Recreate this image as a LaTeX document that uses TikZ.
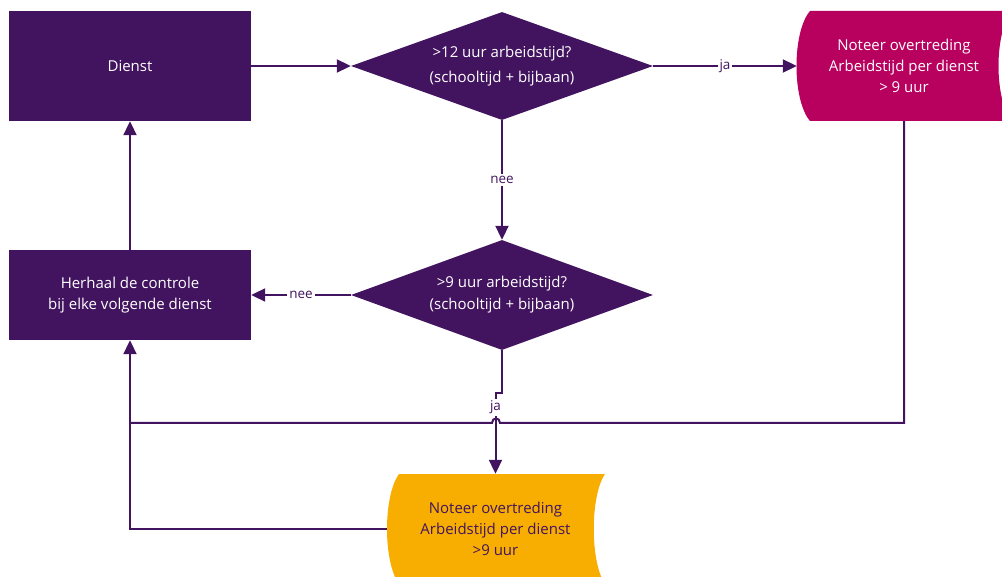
\documentclass[tikz,border=0pt]{standalone}
\usepackage{fontspec}
\setmainfont{Open Sans}
\usetikzlibrary{arrows.meta,shapes.geometric}
\definecolor{vio}{HTML}{42145F}
\definecolor{mag}{HTML}{B8005F}
\definecolor{yel}{HTML}{F8AE00}
\tikzset{
  box/.style={rectangle, fill=vio, text=white, minimum width=242pt, inner sep=0pt, align=center, font=\fontsize{15}{21}\selectfont},
  dia/.style={diamond, fill=vio, text=white, minimum width=302pt, minimum height=108pt, shape aspect=2.8, inner sep=0pt, align=center, font=\fontsize{15}{21}\selectfont},
  store/.style={rectangle, inner sep=0pt, align=center, font=\fontsize{15}{21}\selectfont},
  conn/.style={draw=vio, line width=2pt},
  arr/.style={conn, -{Triangle[length=14pt,width=13pt]}},
  lbl/.style={fill=white, text=vio, inner sep=2pt, font=\fontsize{13.5}{15}\selectfont}
}
\begin{document}
\begin{tikzpicture}[x=1pt,y=-1pt]
\useasboundingbox (0,0) rectangle (1002,577);
% shapes
\node[box, minimum height=110pt] (dienst) at (130,66) {Dienst};
\node[box, minimum height=90pt] (herh) at (130,295) {Herhaal de controle\\bij elke volgende dienst};
\node[dia] (d1) at (502,66) {>12 uur arbeidstijd?\\[4pt](schooltijd + bijbaan)};
\node[dia, minimum height=110pt] (d2) at (502,295) {>9 uur arbeidstijd?\\[1pt](schooltijd + bijbaan)};
% magenta stored-data shape
\fill[mag] (810,11) -- (1012,11) .. controls (994,32) and (994,100) .. (1012,121) -- (810,121) .. controls (792,100) and (792,32) .. (810,11) -- cycle;
\node[store, minimum width=214pt, minimum height=110pt, text=white] (magn) at (904,66) {Noteer overtreding\\Arbeidstijd per dienst\\> 9 uur};
% yellow stored-data shape
\fill[yel] (399,474) -- (605,474) .. controls (590,496) and (590,562) .. (605,584) -- (399,584) .. controls (383,562) and (383,496) .. (399,474) -- cycle;
\node[store, minimum width=217pt, minimum height=110pt, text=vio] (yeln) at (495.5,529) {Noteer overtreding\\Arbeidstijd per dienst\\>9 uur};
% coordinates
\coordinate (jog) at (502,393);
\coordinate (hopR) at (500,423);
\coordinate (hopL) at (492,423);
\coordinate (corner) at (130,423);
% connectors
\draw[arr] (dienst) -- (d1);
\draw[arr] (d1) -- node[lbl] {ja} (magn);
\draw[arr] (d1) -- node[lbl] {nee} (d2);
\draw[arr] (d2) -- node[lbl] {nee} (herh);
\draw[arr] (herh) -- (dienst);
\draw[conn] (magn.south) |- (hopR) .. controls (500,417) and (492,417) .. (hopL) -- (corner);
\draw[arr] (corner) -- (herh.south);
\draw[conn] (yeln.west) -| (corner);
\draw[arr] (d2.south) -- (jog) -| node[lbl, pos=0.59] {ja} (yeln.north);
\end{tikzpicture}
\end{document}
